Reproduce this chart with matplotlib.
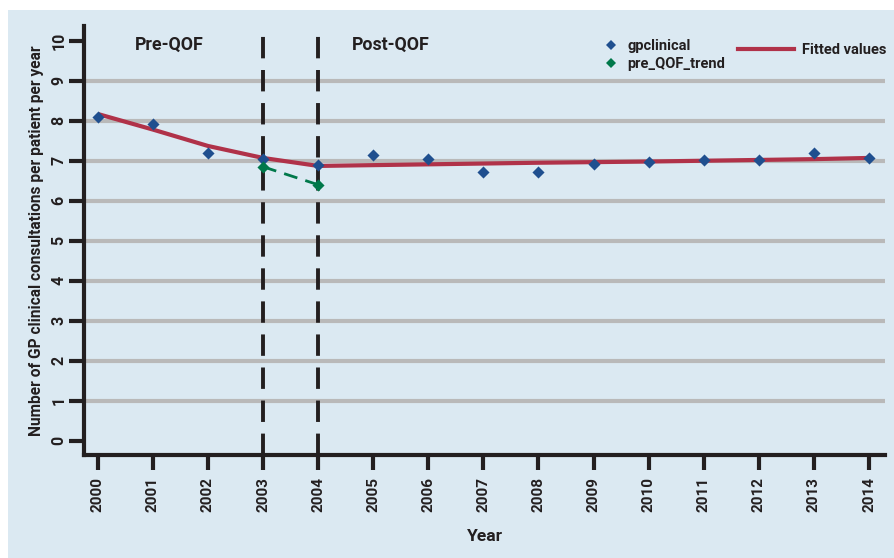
import matplotlib
matplotlib.use("Agg")
import matplotlib.pyplot as plt
from matplotlib.patches import Rectangle
from matplotlib.lines import Line2D

plt.rcParams['font.family'] = ['Roboto', 'DejaVu Sans']
plt.rcParams['font.weight'] = 'bold'

years = list(range(2000, 2015))
gpclinical = [8.10, 7.93, 7.20, 7.04, 6.89, 7.14, 7.04, 6.73, 6.73, 6.92, 6.97, 7.03, 7.03, 7.20, 7.06]
trend_years = [2003, 2004]
pre_qof_trend = [6.85, 6.40]
fit_years_pre = [2000, 2001, 2002, 2003, 2004]
fitted_pre = [8.17, 7.78, 7.37, 7.07, 6.87]
fit_years_post = [2004, 2005, 2006, 2007, 2008, 2009, 2010, 2011, 2012, 2013, 2014]
fitted_post = [6.87, 6.89, 6.91, 6.93, 6.95, 6.965, 6.98, 7.00, 7.02, 7.04, 7.07]
qof_lines = [2003, 2004]
yticks = list(range(0, 11))

bg = '#dbe9f2'
blue = '#1f4f8f'
green = '#00784a'
red = '#b03249'
grid = '#b9b9b9'
ink = '#231f20'

fig = plt.figure(figsize=(8.95, 5.58), dpi=100, facecolor='white')
fig.patches.append(Rectangle((8/895, 0), 1, 1 - 10/558, transform=fig.transFigure,
                             facecolor=bg, edgecolor='none', zorder=-10))
ax = fig.add_axes([84.3/895, 1 - 455/558, (885 - 84.3)/895, (455 - 26)/558])
ax.set_facecolor(bg)
ax.patch.set_alpha(0)

ax.set_xlim(1999.756, 2014.29)
ax.set_ylim(-0.36, 10.37)

for g in yticks[1:-1]:
    ax.axhline(g, color=grid, lw=3, zorder=1)

for xv in qof_lines:
    ax.axvline(xv, ymin=0, ymax=(10.3 + 0.36) / (10.37 + 0.36), color=ink, lw=2.8,
               dashes=(5.5, 3), zorder=2)

ax.plot(fit_years_pre, fitted_pre, color=red, lw=3, zorder=3, solid_capstyle='butt')
ax.plot(fit_years_post, fitted_post, color=red, lw=3, zorder=3, solid_capstyle='butt')
ax.plot(trend_years, pre_qof_trend, color=green, lw=2, dashes=(5, 3), zorder=4)
ax.scatter(years, gpclinical, marker='D', s=38, color=blue, zorder=5, linewidths=0)
ax.scatter(trend_years, pre_qof_trend, marker='D', s=38, color=green, zorder=6, linewidths=0)

for s in ['top', 'right']:
    ax.spines[s].set_visible(False)
for s in ['left', 'bottom']:
    ax.spines[s].set_linewidth(3)
    ax.spines[s].set_color(ink)
    ax.spines[s].set_capstyle('projecting')

ax.set_xticks(years)
ax.set_xticklabels([str(y) for y in years], rotation=90, fontsize=11, fontweight='bold', color=ink)
ax.set_yticks(yticks)
ax.set_yticklabels([str(y) for y in yticks], rotation=90, fontsize=11.5, fontweight='bold',
                   color=ink, va='center')
ax.tick_params(axis='x', length=11, width=3, color=ink, pad=5)
ax.tick_params(axis='y', length=11, width=3, color=ink, pad=2)

ax.set_xlabel('Year', fontsize=12.5, fontweight='bold', color=ink, labelpad=12)
ax.set_ylabel('Number of GP clinical consultations per patient per year', fontsize=11.2,
              fontweight='bold', color=ink, labelpad=5)

ax.text(2001.3, 9.9, 'Pre-QOF', fontsize=12.8, fontweight='bold', color=ink, ha='center', va='center')
ax.text(2005.32, 9.9, 'Post-QOF', fontsize=12.8, fontweight='bold', color=ink, ha='center', va='center')

h1 = [Line2D([], [], marker='D', color=blue, ls='none', markersize=5.5, markeredgewidth=0),
      Line2D([], [], marker='D', color=green, ls='none', markersize=5.5, markeredgewidth=0)]
leg1 = ax.legend(h1, ['gpclinical', 'pre_QOF_trend'], loc='upper left',
                 bbox_to_anchor=(0.638, 0.99), bbox_transform=ax.transAxes,
                 frameon=False, handlelength=1.0, handletextpad=0.6,
                 labelspacing=0.3, borderaxespad=0.2, prop={'weight': 'bold', 'size': 10.5})
for t in leg1.get_texts():
    t.set_color(ink)
ax.add_artist(leg1)
h2 = [Line2D([], [], color=red, lw=3)]
leg2 = ax.legend(h2, ['Fitted values'], loc='upper left',
                 bbox_to_anchor=((725 - 84.3) / (885 - 84.3), 0.99), bbox_transform=ax.transAxes,
                 frameon=False, handlelength=3.8, handletextpad=0.55, borderaxespad=0.5,
                 prop={'weight': 'bold', 'size': 10.5})
for t in leg2.get_texts():
    t.set_color(ink)

fig.savefig('out.png', dpi=100, facecolor=fig.get_facecolor())
